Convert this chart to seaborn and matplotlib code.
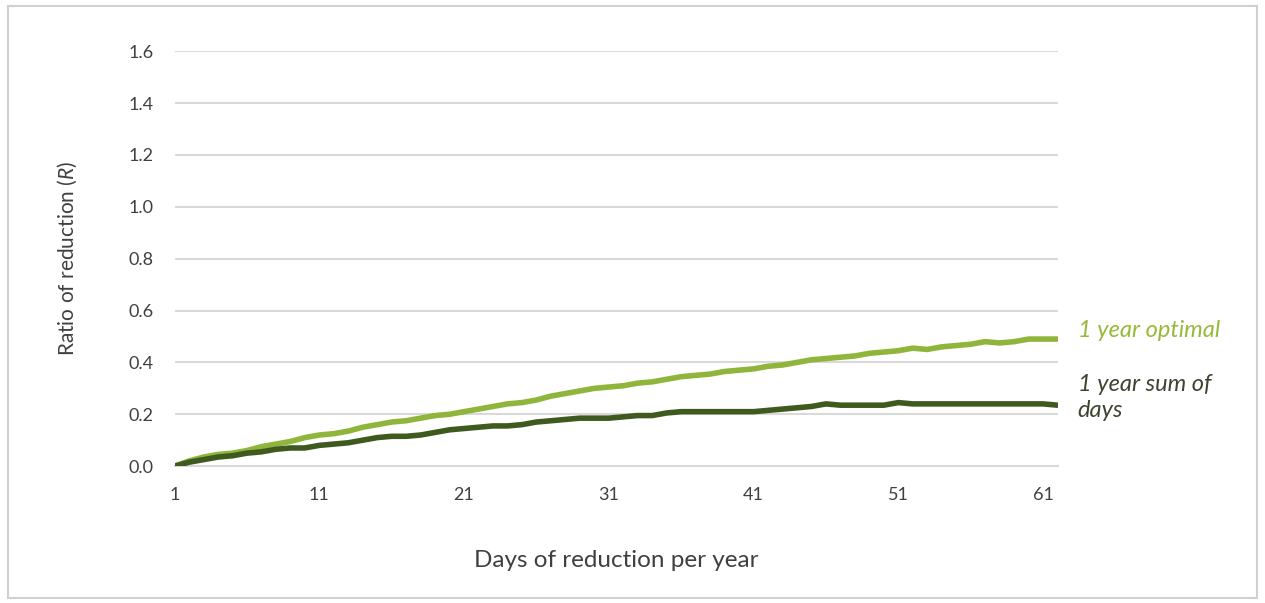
import matplotlib
matplotlib.use("Agg")
import matplotlib.pyplot as plt
from matplotlib.patches import Rectangle
import seaborn as sns
import pandas as pd

sns.set_style("white")
plt.rcParams['font.family'] = ['Lato', 'DejaVu Sans']
plt.rcParams['mathtext.fontset'] = 'custom'
plt.rcParams['mathtext.it'] = 'Lato:italic'
plt.rcParams['mathtext.rm'] = 'Lato'

days = list(range(1, 63))
optimal = [0.00, 0.02, 0.035, 0.045, 0.05, 0.06, 0.075, 0.085, 0.095, 0.11,
           0.12, 0.125, 0.135, 0.15, 0.16, 0.17, 0.175, 0.185, 0.195, 0.20,
           0.21, 0.22, 0.23, 0.24, 0.245, 0.255, 0.27, 0.28, 0.29, 0.30,
           0.305, 0.31, 0.32, 0.325, 0.335, 0.345, 0.35, 0.355, 0.365, 0.37,
           0.375, 0.385, 0.39, 0.40, 0.41, 0.415, 0.42, 0.425, 0.435, 0.44,
           0.445, 0.455, 0.45, 0.46, 0.465, 0.47, 0.48, 0.475, 0.48, 0.49,
           0.49, 0.49]
sum_of_days = [0.0, 0.015, 0.025, 0.035, 0.04, 0.05, 0.055, 0.065, 0.07, 0.07,
               0.08, 0.085, 0.09, 0.10, 0.11, 0.115, 0.115, 0.12, 0.13, 0.14,
               0.145, 0.15, 0.155, 0.155, 0.16, 0.17, 0.175, 0.18, 0.185, 0.185,
               0.185, 0.19, 0.195, 0.195, 0.205, 0.21, 0.21, 0.21, 0.21, 0.21,
               0.21, 0.215, 0.22, 0.225, 0.23, 0.24, 0.235, 0.235, 0.235, 0.235,
               0.245, 0.24, 0.24, 0.24, 0.24, 0.24, 0.24, 0.24, 0.24, 0.24,
               0.24, 0.235]
series_names = ["1 year optimal", "1 year sum of days"]
xticks = [1, 11, 21, 31, 41, 51, 61]
yticks = [0.0, 0.2, 0.4, 0.6, 0.8, 1.0, 1.2, 1.4, 1.6]

df = pd.DataFrame({
    "day": days * 2,
    "R": optimal + sum_of_days,
    "series": [series_names[0]] * len(days) + [series_names[1]] * len(days),
})

light = "#8fb53b"
dark = "#3e5a1f"

fig = plt.figure(figsize=(12.65, 6.03), dpi=100)
ax = fig.add_axes([0.138, 0.227, 0.698, 0.688])

sns.lineplot(data=df, x="day", y="R", hue="series",
             palette={series_names[0]: light, series_names[1]: dark},
             linewidth=4, legend=False, ax=ax, zorder=3)

ax.set_xlim(1, 62)
ax.set_ylim(0, 1.6)
ax.set_xticks(xticks)
ax.set_yticks(yticks)
ax.set_yticklabels([f"{v:.1f}" for v in yticks])
ax.tick_params(axis='both', length=0, labelsize=13, labelcolor="#404040", pad=15)
ax.yaxis.grid(True, color="#d9d9d9", linewidth=1.5)
for s in ["top", "right", "left"]:
    ax.spines[s].set_visible(False)
ax.spines["bottom"].set_color("#d9d9d9")
ax.spines["bottom"].set_linewidth(1.5)

ax.set_xlabel("Days of reduction per year", fontsize=17.5, color="#404040", labelpad=34)
ax.set_ylabel("Ratio of reduction ($\\mathit{R}$)", fontsize=15, color="#404040", labelpad=36)

ax.text(63.4, 0.524, "1 year optimal", color="#97b93a", fontsize=17, style="italic",
        va="center", ha="left", clip_on=False)
ax.text(63.4, 0.265, "1 year sum of\ndays", color="#3d4430", fontsize=17, style="italic",
        va="center", ha="left", clip_on=False, linespacing=1.3)

fig.patches.append(Rectangle((0.006, 0.008), 0.988, 0.982, transform=fig.transFigure,
                             fill=False, edgecolor="#d0d0d0", linewidth=1.5))

plt.savefig("out.png", dpi=100)
